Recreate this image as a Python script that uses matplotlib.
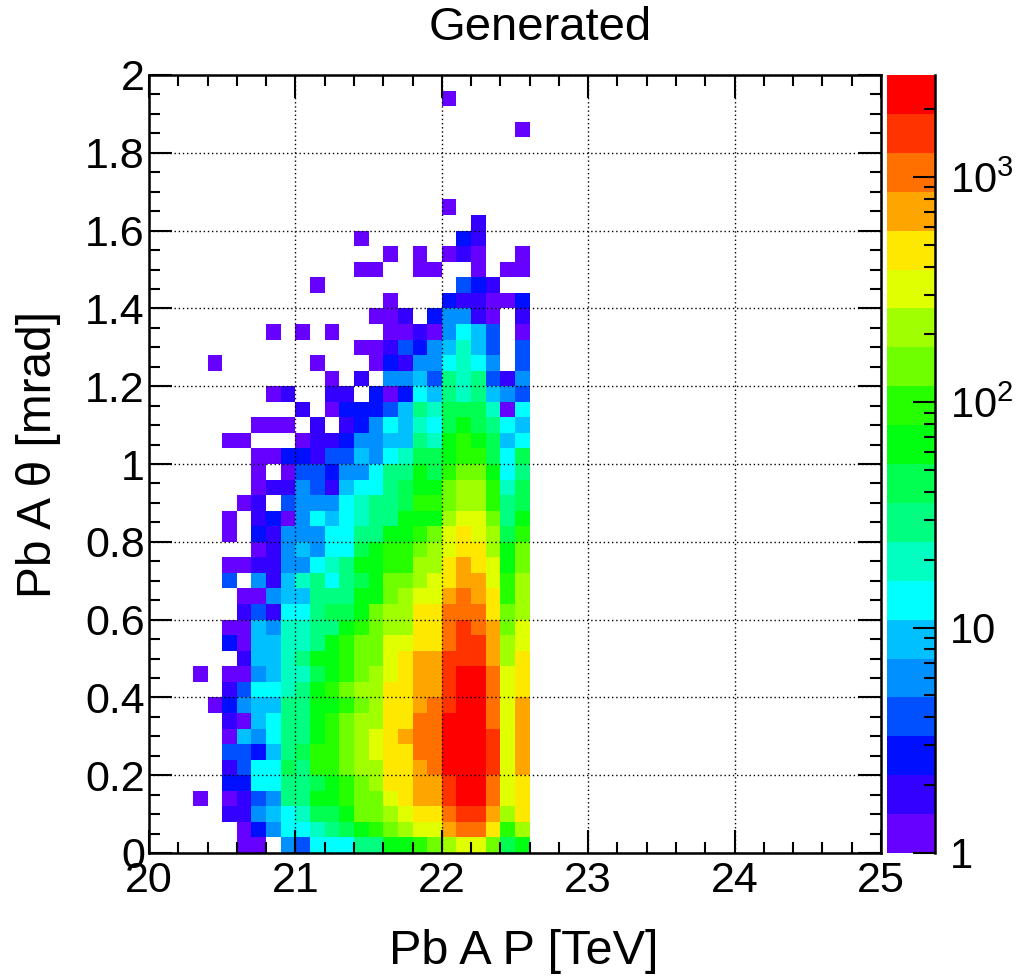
import numpy as np
import matplotlib
matplotlib.use("Agg")
import matplotlib.pyplot as plt
from matplotlib.colors import ListedColormap, BoundaryNorm
from matplotlib.ticker import FixedLocator, NullFormatter

plt.rcParams['font.family'] = ['Liberation Sans', 'DejaVu Sans']
plt.rcParams['mathtext.fontset'] = 'custom'
plt.rcParams['mathtext.rm'] = 'Liberation Sans'
plt.rcParams['mathtext.default'] = 'regular'

title = "Generated"
x_label = "Pb A P [TeV]"
y_label = "Pb A \u03b8 [mrad]"
x_ticks = [20, 21, 22, 23, 24, 25]
y_ticks = [0, 0.2, 0.4, 0.6, 0.8, 1, 1.2, 1.4, 1.6, 1.8, 2]
y_tick_labels = ["0", "0.2", "0.4", "0.6", "0.8", "1", "1.2", "1.4", "1.6", "1.8", "2"]
palette = ["#6600ff", "#3300ff", "#0010ff", "#0050ff", "#0090ff", "#00c0ff", "#00ffff",
           "#00ffc0", "#00ff80", "#00ff50", "#00ff10", "#25ff00", "#70ff00", "#a0ff00",
           "#e0ff00", "#ffe800", "#ffa500", "#ff7000", "#ff3300", "#ff0000"]
first_column = 3
# counts per bin, top row (theta near 2) first; columns are P bins from 20.3 TeV to 22.6 TeV
counts = [
 [0,0,0,0,0,0,0, 0,0,0,0,0,0,0,0,0,0, 0,0,0,0,0,0],
 [0,0,0,0,0,0,0, 0,0,0,0,0,0,0,0,0,0, 1,0,0,0,0,0],
 [0,0,0,0,0,0,0, 0,0,0,0,0,0,0,0,0,0, 0,0,0,0,0,0],
 [0,0,0,0,0,0,0, 0,0,0,0,0,0,0,0,0,0, 0,0,0,0,0,1],
 [0,0,0,0,0,0,0, 0,0,0,0,0,0,0,0,0,0, 0,0,0,0,0,0],
 [0,0,0,0,0,0,0, 0,0,0,0,0,0,0,0,0,0, 0,0,0,0,0,0],
 [0,0,0,0,0,0,0, 0,0,0,0,0,0,0,0,0,0, 0,0,0,0,0,0],
 [0,0,0,0,0,0,0, 0,0,0,0,0,0,0,0,0,0, 0,0,0,0,0,0],
 [0,0,0,0,0,0,0, 0,0,0,0,0,0,0,0,0,0, 1,0,0,0,0,0],
 [0,0,0,0,0,0,0, 0,0,0,0,0,0,0,0,0,0, 0,0,2,0,0,0],
 [0,0,0,0,0,0,0, 0,0,0,0,1,0,0,0,0,0, 0,3,2,0,0,0],
 [0,0,0,0,0,0,0, 0,0,0,0,0,0,1,0,1,0, 1,2,1,0,0,1],
 [0,0,0,0,0,0,0, 0,0,0,0,1,1,0,0,1,1, 0,0,1,0,1,1],
 [0,0,0,0,0,0,0, 0,1,0,0,0,0,0,0,0,0, 0,4,3,2,0,0],
 [0,0,0,0,0,0,0, 0,0,0,0,0,0,1,0,0,0, 3,2,2,1,1,3],
 [0,0,0,0,0,0,0, 0,0,0,0,0,1,1,2,0,3, 6,6,2,1,0,2],
 [0,0,0,0,0,1,0, 1,0,1,0,0,0,1,1,2,1, 6,13,9,4,0,1],
 [0,0,0,0,0,0,0, 0,0,0,0,1,1,2,4,3,6, 9,20,9,4,0,4],
 [0,1,0,0,0,0,0, 0,1,0,0,0,1,3,2,6,6, 13,20,13,6,0,4],
 [0,0,0,0,0,0,0, 0,0,1,0,2,0,6,6,9,4, 30,20,30,4,2,6],
 [0,0,0,0,0,1,2, 0,0,2,2,0,3,1,3,13,9, 30,20,30,9,6,4],
 [0,0,0,0,0,0,0, 2,0,1,3,3,3,4,9,30,20, 44,44,44,20,1,13],
 [0,0,0,0,1,1,1, 0,2,0,2,3,6,13,9,20,13, 44,65,44,30,13,9],
 [0,0,1,1,0,0,0, 1,2,2,3,6,6,9,9,30,20, 65,97,65,44,9,13],
 [0,0,0,0,1,1,3, 3,2,4,4,9,6,13,20,44,44, 65,97,97,44,13,44],
 [0,0,0,0,1,0,1, 4,4,3,6,6,13,30,30,65,44, 97,145,145,65,13,30],
 [0,0,0,0,1,2,2, 6,4,2,9,13,13,30,44,65,65, 145,215,215,97,20,44],
 [0,0,0,1,2,0,4, 6,6,6,13,20,30,30,44,97,97, 145,215,215,97,30,44],
 [0,0,1,0,2,3,1, 6,13,9,13,20,30,30,65,65,65, 215,320,320,145,30,65],
 [0,0,1,0,3,2,6, 6,6,13,13,30,30,65,65,97,145, 320,480,320,215,44,97],
 [0,0,0,0,1,2,6, 9,6,13,13,44,65,97,97,145,215, 320,480,480,215,65,145],
 [0,0,1,1,2,2,6, 6,13,20,30,65,65,97,97,215,215, 480,710,480,320,65,145],
 [0,0,4,0,6,2,9, 20,30,13,30,44,65,145,145,215,320, 480,710,710,320,97,215],
 [0,0,0,1,1,6,9, 9,30,30,30,65,65,145,215,320,320, 710,1060,710,480,97,215],
 [0,0,0,2,4,2,13, 13,30,44,44,65,145,215,215,480,480, 1060,1060,1060,480,145,215],
 [0,0,1,1,9,6,20, 20,30,30,65,97,145,215,215,480,480, 1060,1570,1060,710,145,320],
 [0,0,3,1,9,9,20, 20,30,65,97,145,145,320,320,480,480, 1060,1570,1570,710,215,320],
 [0,0,0,2,9,9,20, 30,65,65,97,145,145,320,480,710,710, 1570,1570,1570,710,215,480],
 [1,0,1,1,6,9,20, 20,44,65,97,145,215,320,480,710,710, 1570,2340,2340,1060,320,480],
 [0,0,2,4,13,13,20, 30,65,97,145,215,215,480,480,710,710, 1570,2340,2340,1060,320,480],
 [0,1,3,6,9,9,30, 30,65,65,97,145,215,480,480,710,1060, 1570,2340,2340,1060,320,710],
 [0,0,2,1,9,13,30, 30,65,97,145,215,215,480,480,1060,1060, 2340,2340,2340,1060,320,710],
 [0,0,1,9,6,13,30, 30,65,97,145,215,320,480,710,1060,1060, 2340,2340,2340,1570,320,710],
 [0,0,4,4,3,9,30, 44,97,97,145,215,320,480,480,1060,1060, 2340,2340,2340,1570,320,710],
 [0,0,2,4,13,13,44, 30,97,97,145,215,215,480,480,710,1060, 2340,2340,2340,1570,320,710],
 [0,0,3,3,13,13,30, 30,44,65,97,145,215,480,480,710,710, 1570,2340,2340,1060,320,480],
 [1,0,1,2,4,6,30, 30,65,65,97,145,145,320,480,710,710, 1570,2340,2340,1060,320,480],
 [0,0,2,2,6,9,13, 20,44,44,65,145,145,215,320,480,480, 1060,1570,1570,710,215,480],
 [0,0,0,1,3,6,13, 13,20,30,44,65,97,145,215,320,320, 710,1060,1060,480,97,215],
 [0,0,0,1,1,0,6, 4,13,13,13,30,30,65,65,97,145, 215,320,320,145,44,65],
]

W, H = 1017, 976
fig = plt.figure(figsize=(W / 100, H / 100), dpi=100)
ax = fig.add_axes([149 / W, 1 - 853 / H, 732 / W, 778 / H])
cax = fig.add_axes([887 / W, 1 - 853 / H, 48 / W, 778 / H])

n_bins = 50
grid = np.zeros((n_bins, n_bins))
block = np.array(counts, dtype=float)[::-1]
grid[:, first_column:first_column + block.shape[1]] = block
x_edges = np.linspace(20, 25, n_bins + 1)
y_edges = np.linspace(0, 2, n_bins + 1)

levels = np.geomspace(1, 2832, len(palette) + 1)
cmap = ListedColormap(palette)
norm = BoundaryNorm(levels, cmap.N)
ax.pcolormesh(x_edges, y_edges, np.ma.masked_less(grid, 1), cmap=cmap, norm=norm, linewidth=0)

ax.set_xlim(20, 25)
ax.set_ylim(0, 2)
ax.set_xticks(x_ticks)
ax.set_xticklabels([str(t) for t in x_ticks])
ax.set_yticks(y_ticks)
ax.set_yticklabels(y_tick_labels)
ax.xaxis.set_minor_locator(FixedLocator(np.arange(20, 25.01, 0.2)))
ax.yaxis.set_minor_locator(FixedLocator(np.arange(0, 2.001, 0.05)))
ax.tick_params(which='major', direction='in', length=16.5, width=1.5, top=True, right=True,
               labelsize=31, color='black')
ax.tick_params(axis='x', which='major', pad=6)
ax.tick_params(axis='y', which='major', pad=3)
ax.tick_params(which='minor', direction='in', length=8, width=1.5, top=True, right=True)
ax.set_axisbelow(False)
ax.grid(True, which='major', color='black', linewidth=1.0, linestyle=(0, (1, 2)))
for side in ax.spines.values():
    side.set_linewidth(1.8)

fig.text(540 / W, 1 - 28 / H, title, fontsize=34, ha='center', va='center')
fig.text(524 / W, 1 - 951 / H, x_label, fontsize=35, ha='center', va='center')
fig.text(39 / W, 1 - 455 / H, y_label, fontsize=34.5, ha='center', va='center', rotation=90)

cax.pcolormesh([0, 1], levels, np.array(levels[:-1] * 1.0001).reshape(-1, 1), cmap=cmap, norm=norm, linewidth=0)
cax.set_yscale('log')
cax.set_ylim(1, levels[-1])
cax.set_xlim(0, 1)
cax.set_xticks([])
for name, side in cax.spines.items():
    side.set_visible(name == 'right')
    side.set_linewidth(1.8)
cax.yaxis.tick_right()
cax.set_yticks([1, 10, 100, 1000])
cax.set_yticklabels(["1", "10", r"$10^{2}$", r"$10^{3}$"])
cax.yaxis.set_minor_locator(FixedLocator([m * d for d in (1, 10, 100, 1000) for m in range(2, 10) if m * d < 2832]))
cax.yaxis.set_minor_formatter(NullFormatter())
cax.tick_params(which='major', direction='in', length=16, width=1.5, labelsize=30, pad=11, right=True, left=False)
cax.tick_params(which='minor', direction='in', length=8, width=1.5, right=True, left=False)

fig.savefig("out.png", dpi=100)
